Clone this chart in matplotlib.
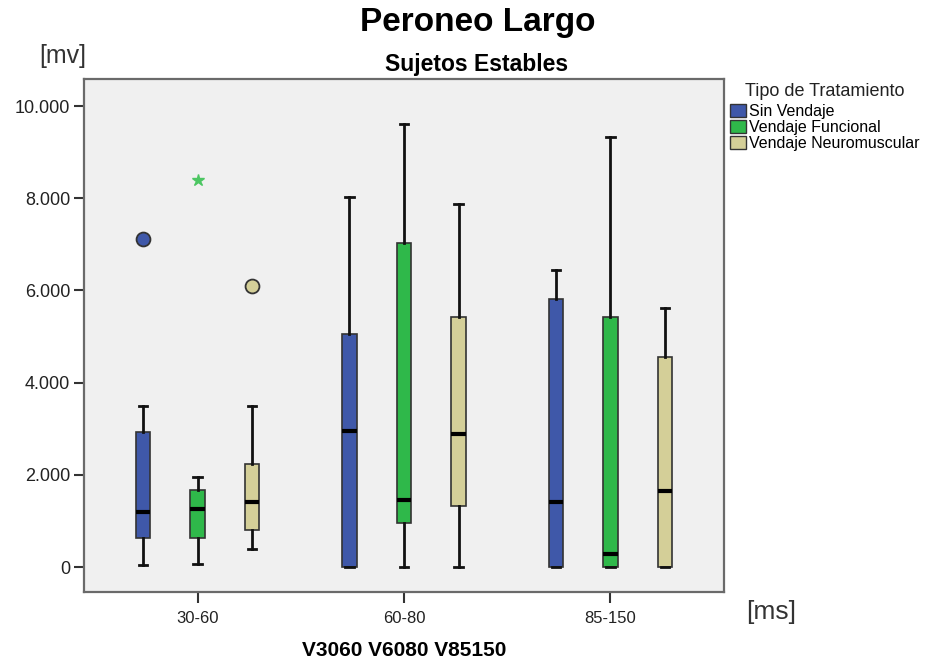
import numpy as np
import matplotlib
matplotlib.use("Agg")
import matplotlib.pyplot as plt
from matplotlib.patches import Patch

plt.rcParams["font.family"] = ["Liberation Sans", "DejaVu Sans"]

# --- data (mV), one entry per time window ---
groups = ["30-60", "60-80", "85-150"]
series = ["Sin Vendaje", "Vendaje Funcional", "Vendaje Neuromuscular"]
colors = ["#3f58a9", "#2fb84a", "#d4cf98"]

sin_q1 = [620, 0, 0]
sin_med = [1190, 2940, 1410]
sin_q3 = [2930, 5050, 5810]
sin_lo = [40, 0, 0]
sin_hi = [3490, 8030, 6440]
sin_out = [[7120], [], []]

fun_q1 = [640, 950, 0]
fun_med = [1260, 1460, 280]
fun_q3 = [1680, 7020, 5430]
fun_lo = [60, 0, 0]
fun_hi = [1950, 9610, 9320]
fun_out = [[8390], [], []]   # extreme value (star)

neu_q1 = [800, 1320, 0]
neu_med = [1410, 2890, 1650]
neu_q3 = [2240, 5420, 4550]
neu_lo = [380, 0, 0]
neu_hi = [3490, 7870, 5620]
neu_out = [[6100], [], []]

yticks = [0, 2000, 4000, 6000, 8000, 10000]
ytick_labels = ["0", "2.000", "4.000", "6.000", "8.000", "10.000"]

W, H = 930, 663


def px(x, y):
    return x / W, 1 - y / H


fig = plt.figure(figsize=(W / 100, H / 100), dpi=100)
ax = fig.add_axes([84 / W, 1 - 592 / H, 640 / W, (592 - 79) / H])
ax.set_facecolor("#f0f0f0")

all_stats = [
    (sin_q1, sin_med, sin_q3, sin_lo, sin_hi, sin_out),
    (fun_q1, fun_med, fun_q3, fun_lo, fun_hi, fun_out),
    (neu_q1, neu_med, neu_q3, neu_lo, neu_hi, neu_out),
]
offsets = [-0.264, 0.0, 0.264]
markers = ["o", "*", "o"]

for k, (q1, med, q3, lo, hi, out) in enumerate(all_stats):
    stats = [dict(q1=q1[i], med=med[i], q3=q3[i], whislo=lo[i], whishi=hi[i],
                  fliers=out[i]) for i in range(len(groups))]
    pos = np.arange(len(groups)) + offsets[k]
    if markers[k] == "*":
        fp = dict(marker="*", markersize=9, markerfacecolor="#4cc662",
                  markeredgecolor="#4cc662", linestyle="none")
    else:
        fp = dict(marker="o", markersize=10, markerfacecolor=colors[k],
                  markeredgecolor="#333333", markeredgewidth=1.3, linestyle="none")
    ax.bxp(stats, positions=pos, widths=0.07, capwidths=0.04, patch_artist=True,
           boxprops=dict(facecolor=colors[k], edgecolor="#333333", linewidth=1.2),
           medianprops=dict(color="black", linewidth=3),
           whiskerprops=dict(color="#111111", linewidth=2),
           capprops=dict(color="#111111", linewidth=2),
           flierprops=fp, manage_ticks=False)

ax.set_xlim(-0.55, 2.55)
ax.set_ylim(-542, 10586)
ax.set_xticks(np.arange(len(groups)))
ax.set_xticklabels(groups, fontsize=12, color="#222222")
ax.set_yticks(yticks)
ax.set_yticklabels(ytick_labels, fontsize=13, color="#222222")
ax.tick_params(axis="y", length=7, width=1.5, color="#333333", pad=3)
ax.tick_params(axis="x", length=8, width=1.5, color="#333333", pad=6)
for s in ax.spines.values():
    s.set_color("#6a6a6a")
    s.set_linewidth(1.6)

fig.text(*px(404, 650), "V3060 V6080 V85150", ha="center", va="center",
         fontsize=15, fontweight="bold")
fig.text(*px(478, 22), "Peroneo Largo", ha="center", va="center",
         fontsize=24, fontweight="bold")
fig.text(*px(477, 65), "Sujetos Estables", ha="center", va="center",
         fontsize=16.5, fontweight="bold")
fig.text(*px(63, 56), "[mv]", ha="center", va="center", fontsize=18,
         color="#333333")
fig.text(*px(771, 612), "[ms]", ha="center", va="center", fontsize=19,
         color="#333333")

handles = [Patch(facecolor=c, edgecolor="#333333", linewidth=1) for c in colors]
leg = fig.legend(handles, series, loc="upper left", bbox_to_anchor=px(727, 80),
                 frameon=False, title="Tipo de Tratamiento", fontsize=11.5,
                 title_fontsize=13, handlelength=1.0, handleheight=0.85,
                 handletextpad=0.15, labelspacing=0.06, borderpad=0.2,
                 borderaxespad=0)
leg.get_title().set_color("#222222")
leg._legend_box.sep = 3  # a little room under the legend title

fig.savefig("out.png", dpi=100)
